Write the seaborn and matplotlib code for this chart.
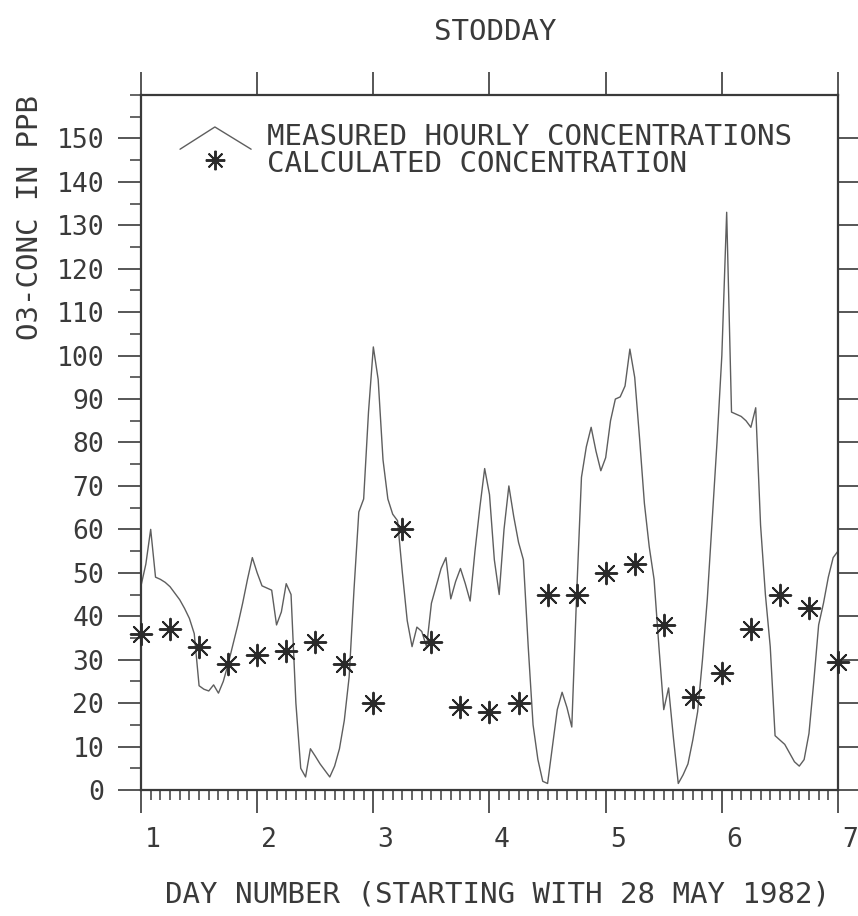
import numpy as np
import pandas as pd
import matplotlib
matplotlib.use("Agg")
import matplotlib.pyplot as plt
from matplotlib.ticker import MultipleLocator, FixedLocator
from matplotlib.transforms import ScaledTranslation
import seaborn as sns

# Station and labels
station = "STODDAY"
x_title = "DAY NUMBER (STARTING WITH 28 MAY 1982)"
y_title = "O3-CONC IN PPB"
legend_labels = ["MEASURED HOURLY CONCENTRATIONS", "CALCULATED CONCENTRATION"]

# Hourly measured ozone (ppb), one value per hour from day 1.0 to day 7.0
measured_ppb = [
    47, 52, 60, 49, 48.5, 47.8, 46.8, 45.3, 43.8, 41.8, 39.5, 36,
    24, 23.2, 22.8, 24.2, 22.3, 25, 29, 33.5, 38, 43, 48.5, 53.5,
    50, 47, 46.5, 46, 38, 41, 47.5, 45, 20, 5, 3, 9.5,
    7.8, 6, 4.5, 3, 5.5, 9.5, 16, 26, 46, 64, 67, 87,
    102, 94.5, 76, 67, 63.5, 62, 50, 39, 33, 37.5, 36.5, 33,
    43, 47, 51, 53.5, 44, 48, 51, 47.5, 43.5, 55, 65, 74,
    68, 53, 45, 60, 70, 63, 57, 53, 33, 15, 7, 2,
    1.5, 10, 18.5, 22.5, 19, 14.5, 45, 72, 79, 83.5, 78, 73.5,
    76.5, 85, 90, 90.5, 93, 101.5, 95, 81, 66, 56, 48.5, 33,
    18.5, 23.5, 12, 1.5, 3.5, 6, 11.5, 18, 30, 44, 62, 80,
    100, 133, 87, 86.5, 86, 85, 83.5, 88, 61, 45, 33, 12.5,
    11.5, 10.5, 8.5, 6.5, 5.5, 7, 13, 25, 38, 43, 49, 53.5,
    55,
]
measured_day = 1 + np.arange(len(measured_ppb)) / 24.0

# Calculated concentration (ppb), every 6 hours
calc_ppb = [36, 37, 33, 29, 31, 32, 34, 29, 20, 60, 34, 19, 18, 20,
            45, 45, 50, 52, 38, 21.5, 27, 37, 45, 42, 29.5]
calc_day = 1 + np.arange(len(calc_ppb)) * 0.25

day_ticks = [1, 2, 3, 4, 5, 6, 7]

measured = pd.DataFrame({"day": measured_day, "ppb": measured_ppb})
calculated = pd.DataFrame({"day": calc_day, "ppb": calc_ppb})

sns.set_theme(style="white")
plt.rcParams["font.family"] = ["DejaVu Sans Mono", "DejaVu Sans"]

ink = "#3a3a3a"
fig = plt.figure(figsize=(8.58, 9.16), dpi=100)
ax = fig.add_axes([141 / 858, 1 - 790 / 916, 697 / 858, 695 / 916])

sns.lineplot(data=measured, x="day", y="ppb", ax=ax, color="#5e5e5e",
             linewidth=1.0, estimator=None, sort=False, legend=False)
star = (8, 2, 0)
sns.scatterplot(data=calculated, x="day", y="ppb", ax=ax, marker=star,
                s=240, color="#2a2a2a", linewidth=1.4, legend=False,
                zorder=4, clip_on=False)

ax.set_xlim(1, 7)
ax.set_ylim(0, 160)

for side in ["left", "right", "top", "bottom"]:
    ax.spines[side].set_visible(True)
    ax.spines[side].set_color(ink)
    ax.spines[side].set_linewidth(1.6)

ax.xaxis.set_major_locator(FixedLocator(day_ticks))
ax.xaxis.set_minor_locator(MultipleLocator(1 / 12))
ax.yaxis.set_major_locator(FixedLocator(np.arange(0, 151, 10)))
ax.yaxis.set_minor_locator(MultipleLocator(5))
ax.set_xticklabels([str(d) for d in day_ticks])

ax.tick_params(axis="both", which="major", direction="out", length=16.5,
               width=1.2, color=ink, labelsize=19, labelcolor=ink, pad=10)
ax.tick_params(axis="x", which="major", top=True, bottom=True)
ax.tick_params(axis="x", which="minor", direction="out", length=7,
               width=1.1, color=ink, top=False, bottom=True)
ax.tick_params(axis="y", which="major", left=True, right=True)
ax.tick_params(axis="y", which="minor", direction="out", length=8,
               width=1.1, color=ink, left=True, right=False)

# day numbers sit a little to the right of their ticks
shift = ScaledTranslation(12 / 100, 0, fig.dpi_scale_trans)
for lab in ax.get_xticklabels():
    lab.set_transform(lab.get_transform() + shift)

ax.set_xlabel(x_title, fontsize=21, color=ink)
ax.xaxis.set_label_coords(0.511, -0.151)
ax.xaxis.label.set_va("center")
ax.set_ylabel(y_title, fontsize=21, color=ink)
ax.yaxis.set_label_coords(-0.159, 0.824)
ax.yaxis.label.set_va("center")

fig.text(495 / 858, 1 - 32 / 916, station, ha="center", va="center",
         fontsize=21, color=ink)

# legend: peaked line key and star key
ax.plot([0.056, 0.106, 0.158], [0.922, 0.954, 0.922], color="#5e5e5e",
        linewidth=1.0, transform=ax.transAxes)
ax.plot([0.106], [0.906], linestyle="none", marker=star, markersize=14,
        markeredgewidth=1.4, color="#2a2a2a", transform=ax.transAxes)
ax.text(0.181, 0.939, legend_labels[0], transform=ax.transAxes,
        fontsize=21, color=ink, va="center", ha="left")
ax.text(0.181, 0.901, legend_labels[1], transform=ax.transAxes,
        fontsize=21, color=ink, va="center", ha="left")

fig.savefig("out.png", dpi=100, facecolor="white")
